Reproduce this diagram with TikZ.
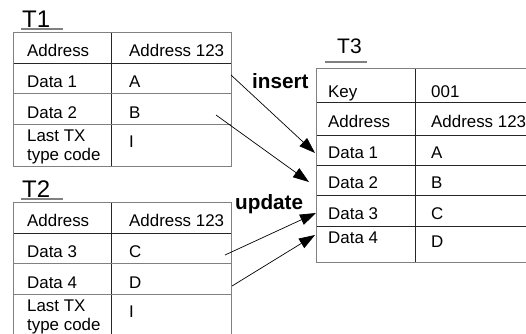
\documentclass[tikz,border=0pt]{standalone}
\usepackage{fontspec}
\setmainfont{Liberation Sans}
\usetikzlibrary{arrows.meta}

\begin{document}
\begin{tikzpicture}[x=1pt,y=-1pt,
  frame/.style={draw=gray,line width=0.9pt},
  rule/.style={draw=black!85,line width=0.8pt},
  cell/.style={anchor=base west,inner sep=0pt,font=\fontsize{16.9}{19}\selectfont},
  title/.style={anchor=base west,inner sep=0pt,font=\fontsize{24}{28}\selectfont},
  verb/.style={anchor=base west,inner sep=0pt,font=\bfseries\fontsize{20.7}{24}\selectfont},
  link/.style={line width=0.7pt,-{Triangle[length=16pt,width=11pt]}}]
 \useasboundingbox (0,0) rectangle (526,333);
 % 表T1
 \node[title] (T1) at (22,27) {T1}; %タイトル
 \draw[gray,line width=1.4pt] (21,29)--(63,29);
 \draw[rule] (111,32)--(111,166);
 \draw[rule] (13,63)--(231,63);
 \draw[frame] (13,93)--(231,93);
 \draw[frame] (13,124)--(231,124);
 \draw[frame] (13,32) rectangle (231,166);
 \node[cell] (T1ak) at (27,56) {Address};
 \node[cell] (T1av) at (129,56) {Address 123};
 \node[cell] (T1d1k) at (27,87) {Data 1};
 \node[cell] (T1d1v) at (129,87) {A};
 \node[cell] (T1d2k) at (27,118) {Data 2};
 \node[cell] (T1d2v) at (129,118) {B};
 \node[cell] (T1lk) at (27,141) {Last TX};
 \node[cell] (T1lk2) at (27,160) {type code};
 \node[cell] (T1lv) at (129,147) {I};
 % 表T2
 \node[title] (T2) at (22,197) {T2}; %タイトル
 \draw[gray,line width=1.4pt] (21,199)--(63,199);
 \draw[rule] (111,202)--(111,336);
 \draw[rule] (13,233)--(231,233);
 \draw[frame] (13,263)--(231,263);
 \draw[frame] (13,294)--(231,294);
 \draw[frame] (13,202) rectangle (231,336);
 \node[cell] (T2ak) at (27,226) {Address};
 \node[cell] (T2av) at (129,226) {Address 123};
 \node[cell] (T2d3k) at (27,257) {Data 3};
 \node[cell] (T2d3v) at (129,257) {C};
 \node[cell] (T2d4k) at (27,288) {Data 4};
 \node[cell] (T2d4v) at (129,288) {D};
 \node[cell] (T2lk) at (27,311) {Last TX};
 \node[cell] (T2lk2) at (27,330) {type code};
 \node[cell] (T2lv) at (129,317) {I};
 % 表T3
 \node[title,font=\fontsize{21}{25}\selectfont] (T3) at (337,53) {T3}; %タイトル
 \draw[gray,line width=1.4pt] (325,62)--(367,62);
 \draw[rule] (415,68)--(415,262);
 \foreach \y in {102,135,165,195,226}
  \draw[rule] (316,\y)--(530,\y);
 \draw[frame] (316,68) rectangle (530,262);
 \node[cell] (T3kk) at (328,97) {Key};
 \node[cell] (T3kv) at (431,97) {001};
 \node[cell] (T3ak) at (328,127) {Address};
 \node[cell] (T3av) at (431,127) {Address 123};
 \node[cell] (T3d1k) at (328,158) {Data 1};
 \node[cell] (T3d1v) at (431,158) {A};
 \node[cell] (T3d2k) at (328,188) {Data 2};
 \node[cell] (T3d2v) at (431,188) {B};
 \node[cell] (T3d3k) at (328,219) {Data 3};
 \node[cell] (T3d3v) at (431,219) {C};
 \node[cell] (T3d4k) at (328,243) {Data 4};
 \node[cell] (T3d4v) at (431,247) {D};
 % 矢印
 \node[verb] (ins) at (252,88) {insert};
 \node[verb] (upd) at (235,209) {update};
 \coordinate (S1) at (231,75); %始点
 \coordinate (S2) at (216,115);
 \coordinate (S3) at (225,255);
 \coordinate (S4) at (232,286);
 \coordinate (E1) at (315,153); %終点
 \coordinate (E2) at (309,182);
 \coordinate (E3) at (316,213);
 \coordinate (E4) at (315,235);
 \draw[link] (S1)--(E1);
 \draw[link] (S2)--(E2);
 \draw[link] (S3)--(E3);
 \draw[link] (S4)--(E4);
\end{tikzpicture}
\end{document}
